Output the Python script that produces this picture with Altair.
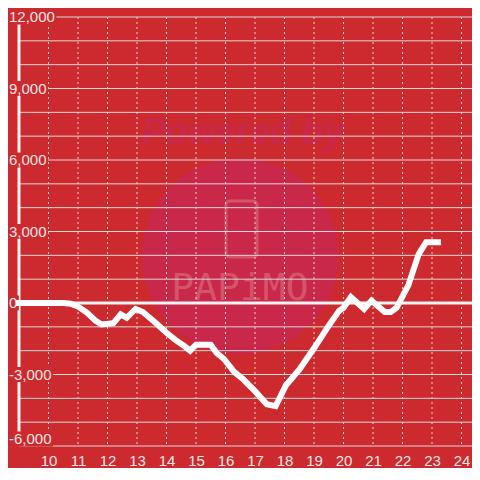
import altair as alt
import pandas as pd

# ---- data ----
hours = [9.0, 9.5, 10.0, 10.5, 10.75, 11.0, 11.3, 11.6, 11.8, 12.2, 12.45, 12.65,
         12.95, 13.2, 13.6, 14.0, 14.3, 14.6, 14.8, 15.0, 15.5, 15.7, 15.95, 16.3,
         16.6, 17.0, 17.4, 17.7, 18.05, 18.5, 19.0, 19.5, 19.85, 20.0, 20.25, 20.7,
         20.95, 21.4, 21.6, 21.8, 22.2, 22.55, 22.8, 23.2]
balance = [0, 0, 0, 0, -30, -150, -400, -750, -900, -850, -480, -620,
           -250, -380, -800, -1250, -1550, -1800, -2000, -1750, -1750, -2100, -2350, -2900,
           -3200, -3700, -4250, -4330, -3450, -2800, -1900, -950, -330, -200, 250, -250,
           100, -380, -380, -200, 750, 2050, 2550, 2550]

y_label_values = [-6000, -3000, 0, 3000, 6000, 9000, 12000]
y_grid_values = [-6000, -5000, -4000, -3000, -2000, -1000, 0, 1000, 2000, 3000,
                 4000, 5000, 6000, 7000, 8000, 9000, 10000, 11000, 12000]
x_tick_values = [10, 11, 12, 13, 14, 15, 16, 17, 18, 19, 20, 21, 22, 23, 24]

# ---- style ----
BG = "#cc2a2e"
GRID = "#d9d9d9"
LABEL = "#f6e4e4"
FONT = "Liberation Sans"
W, H = 453, 429
X_MIN = 9.0
X_MAX = X_MIN + W / 29.5
Y_MIN, Y_MAX = -6000, 12000
px_x = W / (X_MAX - X_MIN)
px_y = H / (Y_MAX - Y_MIN)
LABEL_DX = -10

xscale = alt.Scale(domain=[X_MIN, X_MAX], nice=False, zero=False)
yscale = alt.Scale(domain=[Y_MIN, Y_MAX], nice=False, zero=False)
xaxis = alt.Axis(values=x_tick_values, grid=False, domain=False, ticks=False,
                 labelPadding=7, labelFontSize=15, labelColor=LABEL, labelFont=FONT,
                 format="d", labelFlush=False, title=None)

line_df = pd.DataFrame({"h": hours, "v": balance})
grid_df = pd.DataFrame({"v": y_grid_values})
vgrid_df = pd.DataFrame({"h": x_tick_values})
zero_df = pd.DataFrame({"v": [0]})
yline_df = pd.DataFrame({"h": [X_MIN], "v1": [Y_MAX], "v2": [Y_MIN]})

labels = [f"{v:,}" for v in y_label_values]


def text_width(s):
    w = 0.0
    for c in s:
        w += 4.2 if c == "," else (5.0 if c == "-" else 8.34)
    return w


lab_df = pd.DataFrame({"v": y_label_values, "label": labels})
lab_df["w"] = [text_width(s) for s in labels]
lab_df["h"] = X_MIN
# the lowest label sits a little above its gridline (kept inside the plot)
lab_df["ly"] = lab_df["v"] + (lab_df["v"] == Y_MIN) * (7 / px_y)
lab_df["x1"] = X_MIN + (LABEL_DX - 3) / px_x
lab_df["x2"] = X_MIN + (LABEL_DX + lab_df["w"] + 1.5) / px_x
lab_df["y1"] = lab_df["ly"] - 7.5 / px_y
lab_df["y2"] = lab_df["ly"] + 7.5 / px_y

one = pd.DataFrame({"a": [0]})

# watermark
circle = alt.Chart(one).mark_circle(size=38416, color="#c9284a", opacity=1).encode(
    x=alt.value(221), y=alt.value(239))
powered = alt.Chart(one).mark_text(text="Powered by", fontSize=36, fontWeight="bold",
                                   fontStyle="italic", font=FONT, color="#c9284a").encode(
    x=alt.value(224), y=alt.value(116))
phone = alt.Chart(one).mark_rect(filled=False, stroke="#d4546a", strokeWidth=3,
                                 cornerRadius=4).encode(
    x=alt.value(207), x2=alt.value(238), y=alt.value(184), y2=alt.value(240))
papimo = alt.Chart(one).mark_text(text="PAPiMO", fontSize=38, font="DejaVu Sans Mono",
                                  color="#d4546a").encode(
    x=alt.value(221), y=alt.value(272))

hgrid = alt.Chart(grid_df).mark_rule(color=GRID, strokeWidth=1).encode(
    y=alt.Y("v:Q", scale=yscale, axis=None))
vgrid = alt.Chart(vgrid_df).mark_rule(color=GRID, strokeWidth=1, strokeDash=[2, 3]).encode(
    x=alt.X("h:Q", scale=xscale, axis=xaxis))
zero = alt.Chart(zero_df).mark_rule(color="#f4f4f4", strokeWidth=3).encode(
    y=alt.Y("v:Q", scale=yscale, axis=None))
yline = alt.Chart(yline_df).mark_rule(color="#f4f4f4", strokeWidth=3).encode(
    x=alt.X("h:Q", scale=xscale, axis=xaxis),
    y=alt.Y("v1:Q", scale=yscale, axis=None), y2="v2:Q")

lab_bg = alt.Chart(lab_df).mark_rect(color=BG).encode(
    x=alt.X("x1:Q", scale=xscale, axis=xaxis), x2="x2:Q",
    y=alt.Y("y1:Q", scale=yscale, axis=None), y2="y2:Q")
lab_txt = alt.Chart(lab_df).mark_text(align="left", baseline="middle", dx=LABEL_DX,
                                      fontSize=15, font=FONT, color=LABEL).encode(
    x=alt.X("h:Q", scale=xscale, axis=xaxis),
    y=alt.Y("ly:Q", scale=yscale, axis=None), text="label:N")

line = alt.Chart(line_df).mark_line(color="white", strokeWidth=6, strokeCap="square",
                                    strokeJoin="miter").encode(
    x=alt.X("h:Q", scale=xscale, axis=xaxis),
    y=alt.Y("v:Q", scale=yscale, axis=None))

chart = alt.layer(circle, powered, phone, papimo, hgrid, vgrid, zero, yline,
                  lab_bg, lab_txt, line).properties(
    width=W, height=H, autosize="none",
    padding={"left": 11, "top": 9, "right": 0, "bottom": 22},
    background=BG,
).configure_view(stroke=None)

chart.save("out.html", embed_options={"renderer": "svg", "actions": False})
